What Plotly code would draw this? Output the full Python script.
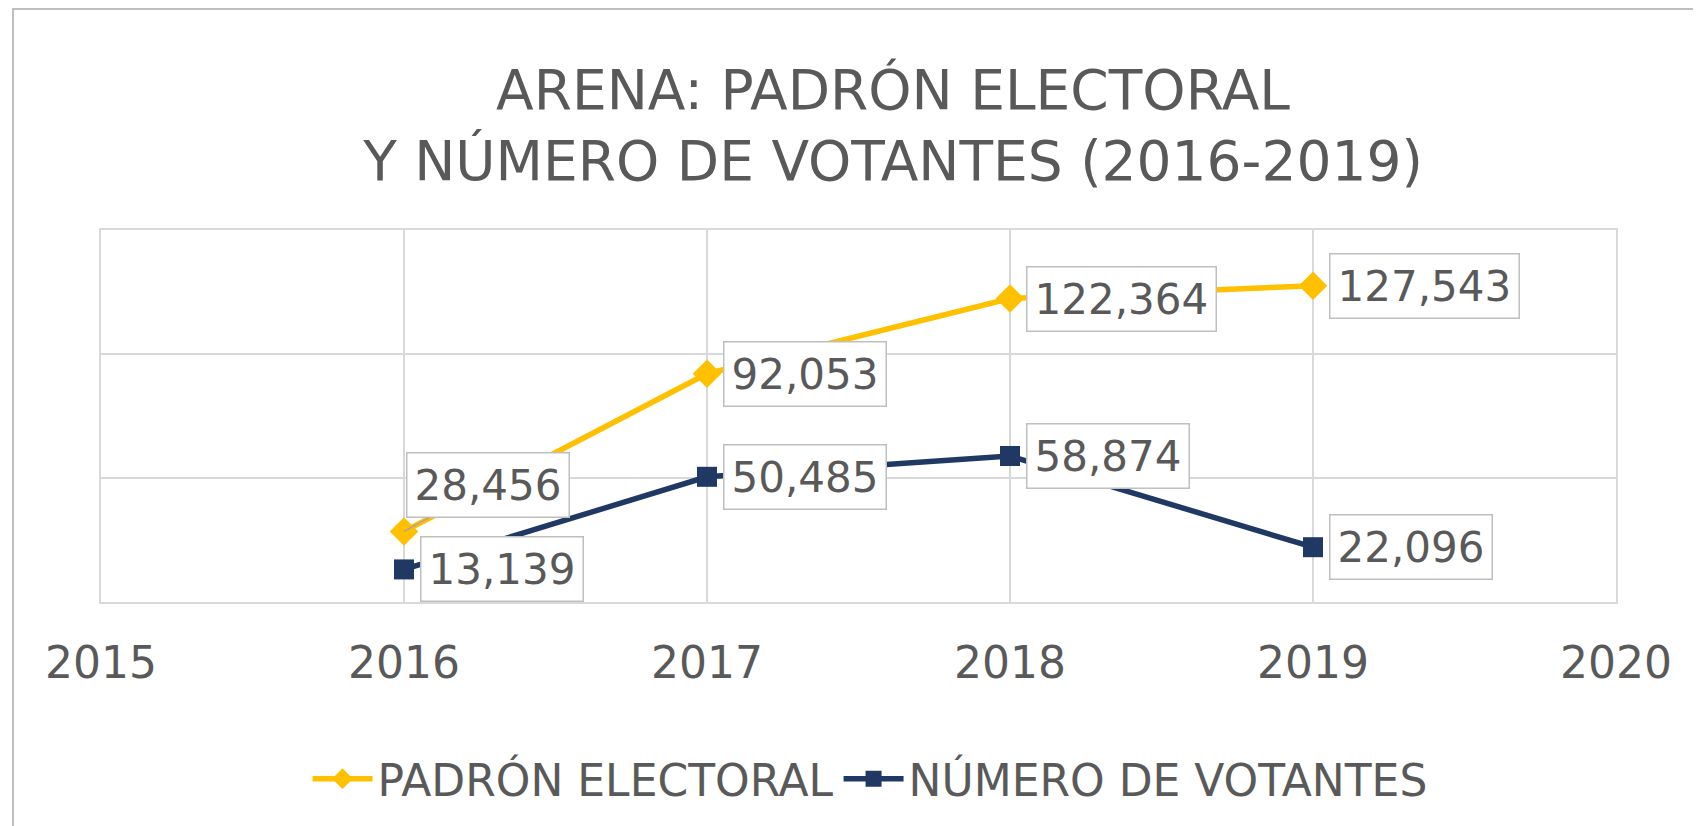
import plotly.graph_objects as go

years = [2016, 2017, 2018, 2019]
padron = [28456, 92053, 122364, 127543]
votantes = [13139, 50485, 58874, 22096]
series_names = ["PADRÓN ELECTORAL", "NÚMERO DE VOTANTES"]
tick_years = [2015, 2016, 2017, 2018, 2019, 2020]
title_text = "ARENA: PADRÓN ELECTORAL<br>Y NÚMERO DE VOTANTES (2016-2019)"

YELLOW = "#FFC000"
NAVY = "#1F3864"
TEXT = "#595959"
GRID = "#D9D9D9"
FONT = "DejaVu Sans"

W, H = 1693, 818  # page body has an 8px margin

fig = go.Figure()
fig.add_trace(go.Scatter(x=years, y=padron, name=series_names[0], mode="lines+markers",
                         line=dict(color=YELLOW, width=5.5),
                         marker=dict(symbol="diamond", size=22, color=YELLOW)))
fig.add_trace(go.Scatter(x=years, y=votantes, name=series_names[1], mode="lines+markers",
                         line=dict(color=NAVY, width=5.5),
                         marker=dict(symbol="square", size=20, color=NAVY)))

def fmt(v):
    return f"{v:,}"

annots = []
for i, (x, v) in enumerate(zip(years, padron)):
    if i == 0:
        annots.append(dict(x=x, y=v, text=fmt(v), showarrow=True, arrowhead=0,
                           arrowcolor="#A6A6A6", arrowwidth=1.5, ax=84, ay=-46,
                           standoff=0))
    else:
        annots.append(dict(x=x, y=v, text=fmt(v), showarrow=False, xanchor="left",
                           yanchor="middle", xshift=16))
for x, v in zip(years, votantes):
    annots.append(dict(x=x, y=v, text=fmt(v), showarrow=False, xanchor="left",
                       yanchor="middle", xshift=16))
for a in annots:
    a.update(font=dict(family=FONT, size=42, color=TEXT), bgcolor="white",
             bordercolor="#BFBFBF", borderwidth=1.5, borderpad=7)

fig.update_layout(
    width=W, height=H,
    margin=dict(l=93, r=85, t=222, b=224),
    paper_bgcolor="white", plot_bgcolor="white",
    title=dict(text=title_text, x=885/W, xref="container", xanchor="center",
               y=0.877, yref="container", yanchor="top",
               font=dict(family=FONT, size=55, color=TEXT)),
    font=dict(family=FONT, color=TEXT),
    showlegend=True,
    legend=dict(orientation="h", x=0.5076, xanchor="center", y=-0.476, yanchor="middle",
                font=dict(family=FONT, size=44, color=TEXT), itemwidth=60,
                bgcolor="rgba(0,0,0,0)"),
    annotations=annots,
    shapes=[dict(type="rect", xref="paper", yref="paper", x0=-0.0581, x1=1.2,
                 y0=-0.8, y1=1.594, line=dict(color="#BFBFBF", width=2),
                 fillcolor="rgba(0,0,0,0)", layer="below")],
)
fig.update_xaxes(range=[2015, 2020], tickvals=tick_years, ticktext=[str(t) for t in tick_years],
                 showgrid=True, gridcolor=GRID, gridwidth=2, showline=True, mirror=True,
                 linecolor=GRID, linewidth=2, zeroline=False, ticks="",
                 ticklabelstandoff=21, tickfont=dict(family=FONT, size=44, color=TEXT))
fig.update_yaxes(range=[0, 150000], dtick=50000, showticklabels=False, showgrid=True,
                 gridcolor=GRID, gridwidth=2, showline=True, mirror=True, linecolor=GRID,
                 linewidth=2, zeroline=False, ticks="")

fig.write_html("out.html")
